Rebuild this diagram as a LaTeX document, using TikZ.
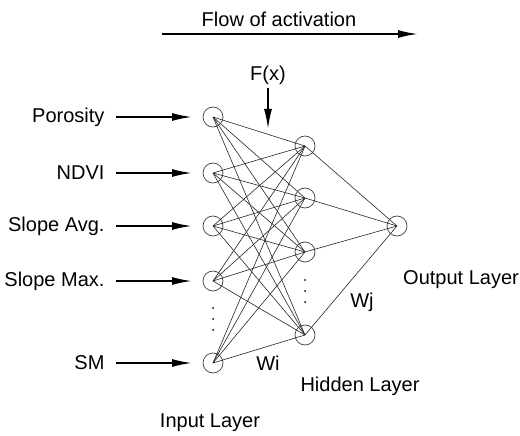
\documentclass[tikz,border=0pt]{standalone}
\usepackage{fontspec}
\setmainfont{Liberation Sans}
\usetikzlibrary{arrows.meta}

\begin{document}
\begin{tikzpicture}[x=1pt, y=-1pt, font=\fontsize{20}{24}\selectfont,
  neuron/.style={circle, draw=black!75, line width=0.7pt, minimum size=20pt, inner sep=0pt},
  link/.style={black!85, line width=0.6pt},
  feed/.style={-{Latex[length=20pt,width=8pt]}, line width=1.8pt}]

  \useasboundingbox (0,0) rectangle (520,436);

  % flow of activation
  \coordinate (flowstart) at (162,34);
  \coordinate (flowend) at (418,34);
  \draw[feed] (flowstart) -- (flowend);
  \node (flow) at (279,19) {Flow of activation};

  % layers
  \foreach \n/\y in {1/117, 2/173, 3/226, 4/281, 5/363}
    \node[neuron] (i\n) at (213,\y) {};
  \foreach \n/\y in {1/146, 2/198, 3/252, 4/335}
    \node[neuron] (h\n) at (305,\y) {};
  \node[neuron] (out) at (397,226) {};

  % weights
  \foreach \i in {1,...,5}
    \foreach \h in {1,...,4}
      \draw[link] (i\i.center) -- (h\h.center);
  \foreach \h in {1,...,4}
    \draw[link] (h\h.center) -- (out.center);

  % dots
  \foreach \y in {308,319,330}
    \fill (213,\y) circle(1pt);
  \foreach \y in {280,291,302}
    \fill (305,\y) circle(1pt);

  % inputs
  \foreach \n/\lab in {1/Porosity, 2/NDVI, 3/Slope Avg., 4/Slope Max., 5/SM}{
    \node[anchor=east] (lab\n) at (108,{0}|-i\n) {\lab};
    \draw[feed, shorten <=8pt, shorten >=21pt] (lab\n.east) -- (i\n.center);
  }

  % transfer function
  \node (fx) at (268,75) {F(x)};
  \coordinate (fxend) at (268,129);
  \draw[feed] (fx.south) -- (fxend);

  % labels
  \node (wi) at (268,363) {Wi};
  \node (wj) at (362,302) {Wj};
  \node (hidden) at (360,386) {Hidden Layer};
  \node (input) at (210,423) {Input Layer};
  \node (output) at (461,280) {Output Layer};

\end{tikzpicture}
\end{document}
